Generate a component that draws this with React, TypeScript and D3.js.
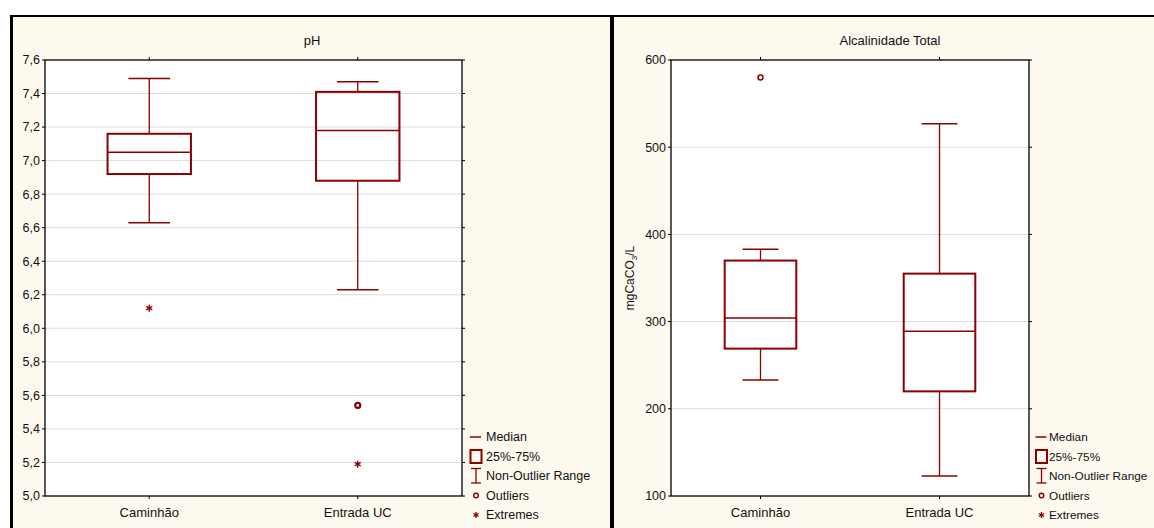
import React from "react";
import * as d3 from "d3";

const categories = ["Caminhão", "Entrada UC"];

// pH panel
const phMedian = [7.05, 7.18];
const phQ1 = [6.92, 6.88];
const phQ3 = [7.16, 7.41];
const phLow = [6.63, 6.23];
const phHigh = [7.49, 7.47];
const phOutliers = [[], [5.54]];
const phExtremes = [[6.12], [5.19]];
const phTicks = [5.0, 5.2, 5.4, 5.6, 5.8, 6.0, 6.2, 6.4, 6.6, 6.8, 7.0, 7.2, 7.4, 7.6];

// Alcalinidade panel
const alkMedian = [304, 289];
const alkQ1 = [269, 220];
const alkQ3 = [370, 355];
const alkLow = [233, 123];
const alkHigh = [383, 527];
const alkOutliers = [[580], []];
const alkExtremes = [[], []];
const alkTicks = [100, 200, 300, 400, 500, 600];

const legendLabels = ["Median", "25%-75%", "Non-Outlier Range", "Outliers", "Extremes"];

const RED = "#8b0000";
const CREAM = "#fdf9ef";
const FONT = "'Liberation Sans', Arial, sans-serif";

function Star({ x, y, r = 3.5 }: { x: number; y: number; r?: number }) {
  const angles = [90, 30, 150].map((a) => (a * Math.PI) / 180);
  return (
    <g stroke={RED} strokeWidth={1.4}>
      {angles.map((a, i) => (
        <line key={i} x1={x - r * Math.cos(a)} y1={y - r * Math.sin(a)} x2={x + r * Math.cos(a)} y2={y + r * Math.sin(a)} />
      ))}
    </g>
  );
}

function Panel(props: {
  left: number; right: number; top: number; bottom: number;
  domain: [number, number]; ticks: number[]; fmt: (v: number) => string;
  title: string; titleX: number; ylabel?: boolean; ylabelX?: number;
  median: number[]; q1: number[]; q3: number[]; low: number[]; high: number[];
  outliers: number[][]; extremes: number[][]; legendX: number; outlierStroke: number;
  legendFont: number; legendGap: number;
}) {
  const { left, right, top, bottom, domain, ticks, fmt } = props;
  const y = d3.scaleLinear().domain(domain).range([bottom, top]);
  const x = d3.scalePoint<string>().domain(categories).range([left, right]).padding(0.5);
  const bw = (right - left) * 0.2;
  const cw = (right - left) * 0.1;
  const lx = props.legendX;
  const ly = [437, 456.5, 476, 495.5, 515];
  return (
    <g fontFamily={FONT}>
      <text x={props.titleX} y={45} fontSize={13} textAnchor="middle" fill="#111">{props.title}</text>
      <rect x={left} y={top} width={right - left} height={bottom - top} fill="#fff" />
      {ticks.slice(1, -1).map((t) => (
        <line key={t} x1={left} x2={right} y1={y(t)} y2={y(t)} stroke="#dcdcdc" strokeWidth={1} />
      ))}
      {ticks.map((t) => (
        <g key={"t" + t}>
          <line x1={left - 3} x2={left} y1={y(t)} y2={y(t)} stroke="#000" />
          <line x1={right} x2={right + 3} y1={y(t)} y2={y(t)} stroke="#000" />
          <text x={left - 5} y={y(t)} dy="0.35em" fontSize={12.5} textAnchor="end" fill="#111">{fmt(t)}</text>
        </g>
      ))}
      {categories.map((c) => (
        <g key={"c" + c}>
          <line x1={x(c)} x2={x(c)} y1={top - 3} y2={top} stroke="#000" />
          <line x1={x(c)} x2={x(c)} y1={bottom} y2={bottom + 3} stroke="#000" />
          <text x={x(c)} y={512} dy="0.35em" fontSize={13} textAnchor="middle" fill="#111">{c}</text>
        </g>
      ))}
      <rect x={left} y={top} width={right - left} height={bottom - top} fill="none" stroke="#000" strokeWidth={1.3} />
      {props.ylabel && (
        <text transform={`translate(${props.ylabelX},${(top + bottom) / 2}) rotate(-90)`} fontSize={12} textAnchor="middle" fill="#111">
          mgCaCO<tspan fontSize={8} dy={3}>3</tspan><tspan dy={-3}>/L</tspan>
        </text>
      )}
      {categories.map((c, i) => {
        const cx = x(c) as number;
        return (
          <g key={"b" + c}>
            <line x1={cx} x2={cx} y1={y(props.high[i])} y2={y(props.q3[i])} stroke={RED} strokeWidth={1.3} />
            <line x1={cx} x2={cx} y1={y(props.q1[i])} y2={y(props.low[i])} stroke={RED} strokeWidth={1.3} />
            <line x1={cx - cw / 2} x2={cx + cw / 2} y1={y(props.high[i])} y2={y(props.high[i])} stroke={RED} strokeWidth={1.5} />
            <line x1={cx - cw / 2} x2={cx + cw / 2} y1={y(props.low[i])} y2={y(props.low[i])} stroke={RED} strokeWidth={1.5} />
            <rect x={cx - bw / 2} y={y(props.q3[i])} width={bw} height={y(props.q1[i]) - y(props.q3[i])} fill="none" stroke={RED} strokeWidth={2} />
            <line x1={cx - bw / 2} x2={cx + bw / 2} y1={y(props.median[i])} y2={y(props.median[i])} stroke={RED} strokeWidth={1.5} />
            {props.outliers[i].map((v, j) => (
              <circle key={"o" + j} cx={cx} cy={y(v)} r={2.5} fill="none" stroke={RED} strokeWidth={props.outlierStroke} />
            ))}
            {props.extremes[i].map((v, j) => (
              <Star key={"e" + j} x={cx} y={y(v)} />
            ))}
          </g>
        );
      })}
      {/* legend */}
      <line x1={lx - 6} x2={lx + 5} y1={ly[0]} y2={ly[0]} stroke={RED} strokeWidth={1.5} />
      <rect x={lx - 5.5} y={ly[1] - 6.5} width={11} height={13} fill="none" stroke={RED} strokeWidth={2} />
      <line x1={lx} x2={lx} y1={ly[2] - 7.5} y2={ly[2] + 7} stroke={RED} strokeWidth={1.3} />
      <line x1={lx - 5} x2={lx + 5} y1={ly[2] - 7.5} y2={ly[2] - 7.5} stroke={RED} strokeWidth={1.3} />
      <line x1={lx - 5} x2={lx + 5} y1={ly[2] + 7} y2={ly[2] + 7} stroke={RED} strokeWidth={1.3} />
      <circle cx={lx} cy={ly[3]} r={2.3} fill="none" stroke={RED} strokeWidth={1.4} />
      <Star x={lx} y={ly[4]} r={3} />
      {legendLabels.map((l, i) => (
        <text key={l} x={lx + props.legendGap} y={ly[i]} dy="0.35em" fontSize={props.legendFont} fill="#111">{l}</text>
      ))}
    </g>
  );
}

export default function App() {
  const phFmt = (v: number) => d3.format(".1f")(v).replace(".", ",");
  const alkFmt = (v: number) => d3.format("d")(v);
  return (
    <svg width={1154} height={528} style={{ position: "absolute", left: 0, top: 0, background: "#fff" }}>
      <rect x={0} y={0} width={1154} height={528} fill="#fff" />
      <rect x={11} y={16} width={1143} height={512} fill={CREAM} />
      <line x1={10} x2={1154} y1={16} y2={16} stroke="#000" strokeWidth={2} />
      <line x1={11.5} x2={11.5} y1={15} y2={528} stroke="#000" strokeWidth={3} />
      <line x1={612} x2={612} y1={15} y2={528} stroke="#000" strokeWidth={4} />
      <Panel left={45} right={462} top={60} bottom={496} domain={[5.0, 7.6]} ticks={phTicks} fmt={phFmt}
        title="pH" titleX={312}
        median={phMedian} q1={phQ1} q3={phQ3} low={phLow} high={phHigh}
        outliers={phOutliers} extremes={phExtremes} legendX={476} outlierStroke={2.2}
        legendFont={12.5} legendGap={10} />
      <Panel left={671} right={1029} top={60} bottom={496} domain={[100, 600]} ticks={alkTicks} fmt={alkFmt}
        title="Alcalinidade Total" titleX={890} ylabel ylabelX={634}
        median={alkMedian} q1={alkQ1} q3={alkQ3} low={alkLow} high={alkHigh}
        outliers={alkOutliers} extremes={alkExtremes} legendX={1041.5} outlierStroke={1.5}
        legendFont={11.8} legendGap={7.5} />
    </svg>
  );
}
